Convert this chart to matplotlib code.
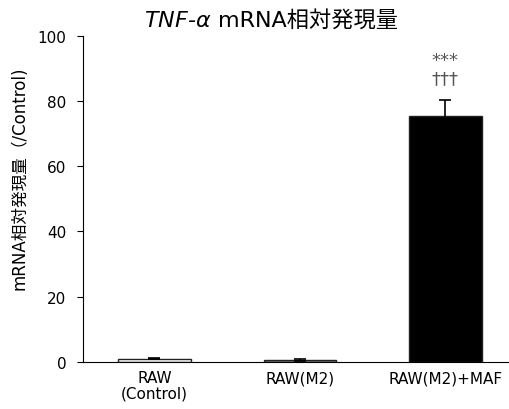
import matplotlib
matplotlib.use("Agg")
import matplotlib.pyplot as plt
import numpy as np

plt.rcParams['font.family'] = ['DejaVu Sans', 'Noto Sans CJK JP']

# データ
groups = ['RAW\n(Control)', 'RAW(M2)', 'RAW(M2)+MAF']
values = [1.0, 0.6, 75.5]
errors = [0.2, 0.2, 4.8]
colors = ['white', '#7f7f7f', 'black']
marks = ['', '', '***\n†††']

fig = plt.figure(figsize=(5.1, 4.1), dpi=100)
ax = fig.add_axes([0.163, 0.115, 0.833, 0.795])

x = np.arange(len(groups))
ax.bar(x, values, width=0.5, color=colors, edgecolor='#222222', linewidth=1,
       yerr=errors, error_kw=dict(ecolor='black', elinewidth=1.2, capsize=4, capthick=1.2))

for xi, v, e, m in zip(x, values, errors, marks):
    if m:
        ax.text(xi, v + e + 4, m, ha='center', va='bottom', fontsize=13,
                color='#555555', linespacing=1.0)

ax.set_xlim(-0.49, 2.43)
ax.set_ylim(0, 100)
ax.set_yticks([0, 20, 40, 60, 80, 100])
ax.set_xticks(x)
ax.set_xticklabels(groups, fontsize=11, linespacing=1.05)
ax.tick_params(axis='x', length=0, pad=6)
ax.tick_params(axis='y', labelsize=11, length=4, direction='out', pad=8)
ax.spines['top'].set_visible(False)
ax.spines['right'].set_visible(False)
ax.set_ylabel('mRNA相対発現量（/Control)', fontsize=12)
ax.yaxis.set_label_coords(-0.129, 0.567)

# タイトル（TNF-α はイタリック）
t = fig.text(0.414, 0.925, 'TNF-$\\alpha$', fontsize=16, style='italic',
             ha='right', va='bottom')
ax.annotate('mRNA相対発現量', xy=(1, 0), xycoords=t, xytext=(5, 0),
            textcoords='offset points', fontsize=16, ha='left', va='bottom')

plt.savefig('out.png', dpi=100)
